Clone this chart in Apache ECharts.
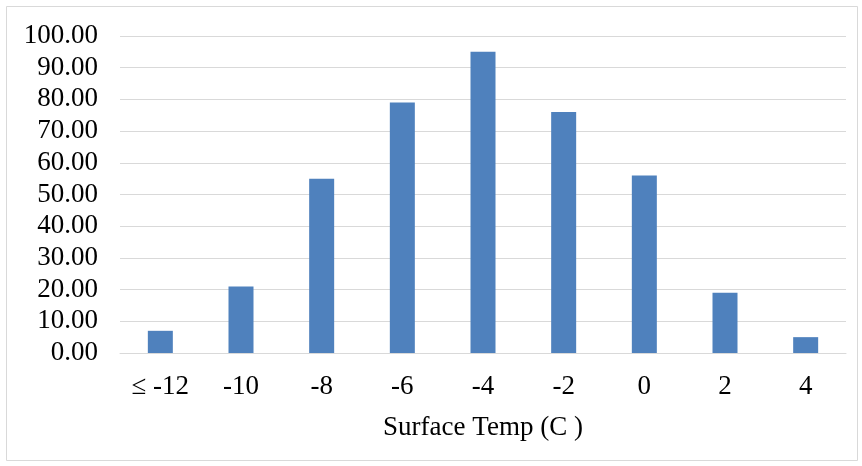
<!DOCTYPE html>
<html>
<head>
<meta charset="utf-8">
<script src="https://cdn.jsdelivr.net/npm/echarts@6/dist/echarts.min.js"></script>
<style>
html,body{margin:0;padding:0;background:#fff;}
#c{width:862px;height:466px;}
</style>
</head>
<body>
<div id="c"></div>
<script>
var categories = ['\u2264 -12', '-10', '-8', '-6', '-4', '-2', '0', '2', '4'];
var values = [7, 21, 55, 79, 95, 76, 56, 19, 5];
var axisTitle = 'Surface Temp (C )';

var chart = echarts.init(document.getElementById('c'));
var font = "'Liberation Serif', 'Times New Roman', serif";
chart.setOption({
  animation: false,
  backgroundColor: '#fff',
  graphic: [{
    type: 'rect',
    shape: {x: 6.5, y: 6.5, width: 851, height: 454},
    style: {fill: 'none', stroke: '#d9d9d9', lineWidth: 1},
    z: -1
  }],
  grid: {left: 120, right: 16, top: 36, bottom: 113, containLabel: false},
  xAxis: {
    type: 'category',
    data: categories,
    name: axisTitle,
    nameLocation: 'middle',
    nameGap: 61,
    nameTextStyle: {color: '#000', fontFamily: font, fontSize: 27},
    axisLine: {show: true, lineStyle: {color: '#d9d9d9', width: 1}},
    axisTick: {show: false},
    axisLabel: {color: '#000', fontFamily: font, fontSize: 27, margin: 20, interval: 0}
  },
  yAxis: {
    type: 'value',
    min: 0, max: 100, interval: 10,
    axisLine: {show: false},
    axisTick: {show: false},
    splitLine: {lineStyle: {color: '#d9d9d9', width: 1}},
    axisLabel: {color: '#000', fontFamily: font, fontSize: 27, margin: 22,
      formatter: function (v) { return v.toFixed(2); }}
  },
  series: [{
    type: 'bar',
    data: values,
    barWidth: 25,
    itemStyle: {color: '#4f81bd'}
  }]
});
</script>
</body>
</html>
